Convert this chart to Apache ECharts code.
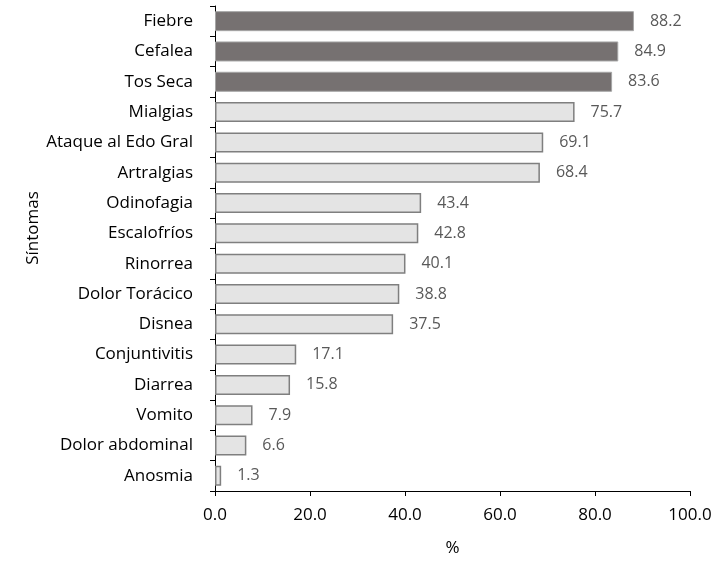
<!DOCTYPE html>
<html><head><meta charset="utf-8">
<script src="https://cdn.jsdelivr.net/npm/echarts@6/dist/echarts.min.js"></script>
<style>html,body{margin:0;padding:0;background:#fff}#c{width:727px;height:562px}</style>
</head><body><div id="c"></div>
<script>
const categories = ["Fiebre","Cefalea","Tos Seca","Mialgias","Ataque al Edo Gral","Artralgias","Odinofagia","Escalofríos","Rinorrea","Dolor Torácico","Disnea","Conjuntivitis","Diarrea","Vomito","Dolor abdominal","Anosmia"];
const values = [88.2,84.9,83.6,75.7,69.1,68.4,43.4,42.8,40.1,38.8,37.5,17.1,15.8,7.9,6.6,1.3];
const highlighted = [true,true,true,false,false,false,false,false,false,false,false,false,false,false,false,false];
const xTicks = [0,20,40,60,80,100];
const xAxisTitle = '%';
const yAxisTitle = 'Síntomas';

const font = "'Open Sans', 'Noto Sans', sans-serif";
const chart = echarts.init(document.getElementById('c'), null, {renderer:'canvas'});
chart.setOption({
  animation:false,
  grid:{left:215,right:37,top:6,bottom:68,containLabel:false},
  graphic:[{type:'text',x:33,y:228,rotation:Math.PI/2,
    style:{text:yAxisTitle,font:"17px 'Open Sans', sans-serif",fill:'#000',textAlign:'center',textVerticalAlign:'middle'}}],
  xAxis:{type:'value',min:xTicks[0],max:xTicks[xTicks.length-1],interval:20,
    name:xAxisTitle,nameLocation:'middle',nameGap:49,
    nameTextStyle:{fontFamily:font,fontSize:17,color:'#000'},
    axisLine:{show:true,lineStyle:{color:'#000',width:1}},
    axisTick:{show:true,length:5,lineStyle:{color:'#000'}},
    splitLine:{show:false},
    axisLabel:{fontFamily:font,fontSize:17,color:'#000',margin:16,formatter:v=>v.toFixed(1)}},
  yAxis:{type:'category',data:categories,inverse:true,
    axisLine:{show:true,lineStyle:{color:'#000',width:1}},
    axisTick:{show:true,length:5,lineStyle:{color:'#000'}},
    axisLabel:{fontFamily:font,fontSize:17,color:'#000',margin:22}},
  series:[{type:'bar',barCategoryGap:'34%',
    data:values.map((v,i)=>({value:v,itemStyle: highlighted[i]
      ? {color:'#767171',borderColor:'#a6a6a6',borderWidth:1}
      : {color:'#e4e4e4',borderColor:'#7f7f7f',borderWidth:1.5}})),
    label:{show:true,position:'right',distance:16,fontFamily:font,fontSize:16,color:'#595959',formatter:p=>p.value.toFixed(1)}}]
});
</script></body></html>
